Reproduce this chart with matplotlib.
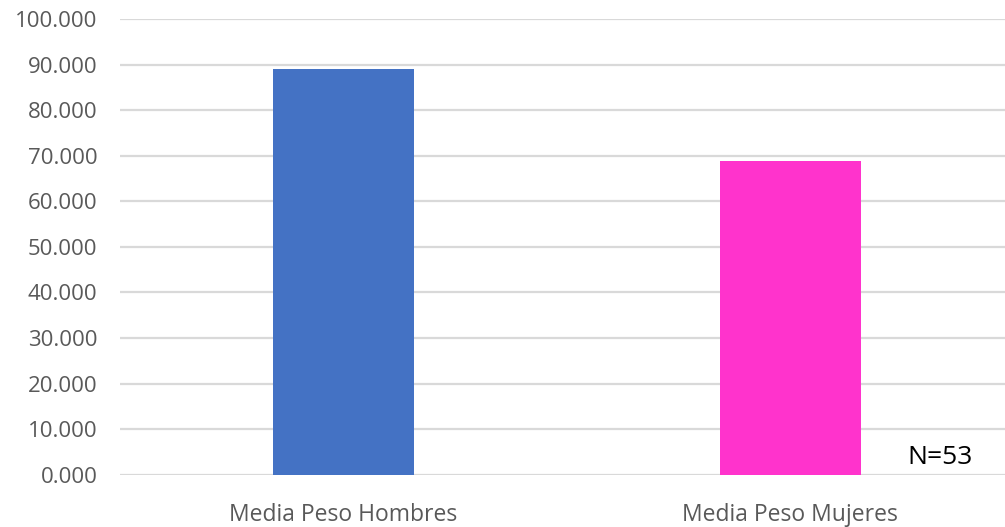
import matplotlib.pyplot as plt

plt.rcParams['font.family'] = ['Open Sans', 'DejaVu Sans']

categorias = ['Media Peso Hombres', 'Media Peso Mujeres']
valores = [89.0, 68.9]
colores = ['#4472C4', '#FF33CC']
ticks = [0, 10, 20, 30, 40, 50, 60, 70, 80, 90, 100]

fig = plt.figure(figsize=(10.05, 5.27), dpi=100)
ax = fig.add_axes([0.119, 0.099, 0.881, 0.865])

x = range(len(categorias))
ax.bar(x, valores, width=0.315, color=colores, zorder=3)

ax.set_xlim(-0.5, 1.48)
ax.set_ylim(0, 100)
ax.set_yticks(ticks)
ax.set_yticklabels([f'{t}.000' for t in ticks])
ax.set_xticks(list(x))
ax.set_xticklabels(categorias)
ax.yaxis.grid(True, color='#D9D9D9', linewidth=1.6, zorder=0)
for s in ax.spines.values():
    s.set_visible(False)
ax.tick_params(axis='both', length=0, colors='#595959')
ax.tick_params(axis='y', labelsize=16, pad=16)
ax.tick_params(axis='x', labelsize=16.5, pad=20)

ax.text(1.334, 3.7, 'N=53', fontsize=19, color='black', ha='center', va='center')

fig.savefig('out.png', dpi=100)
